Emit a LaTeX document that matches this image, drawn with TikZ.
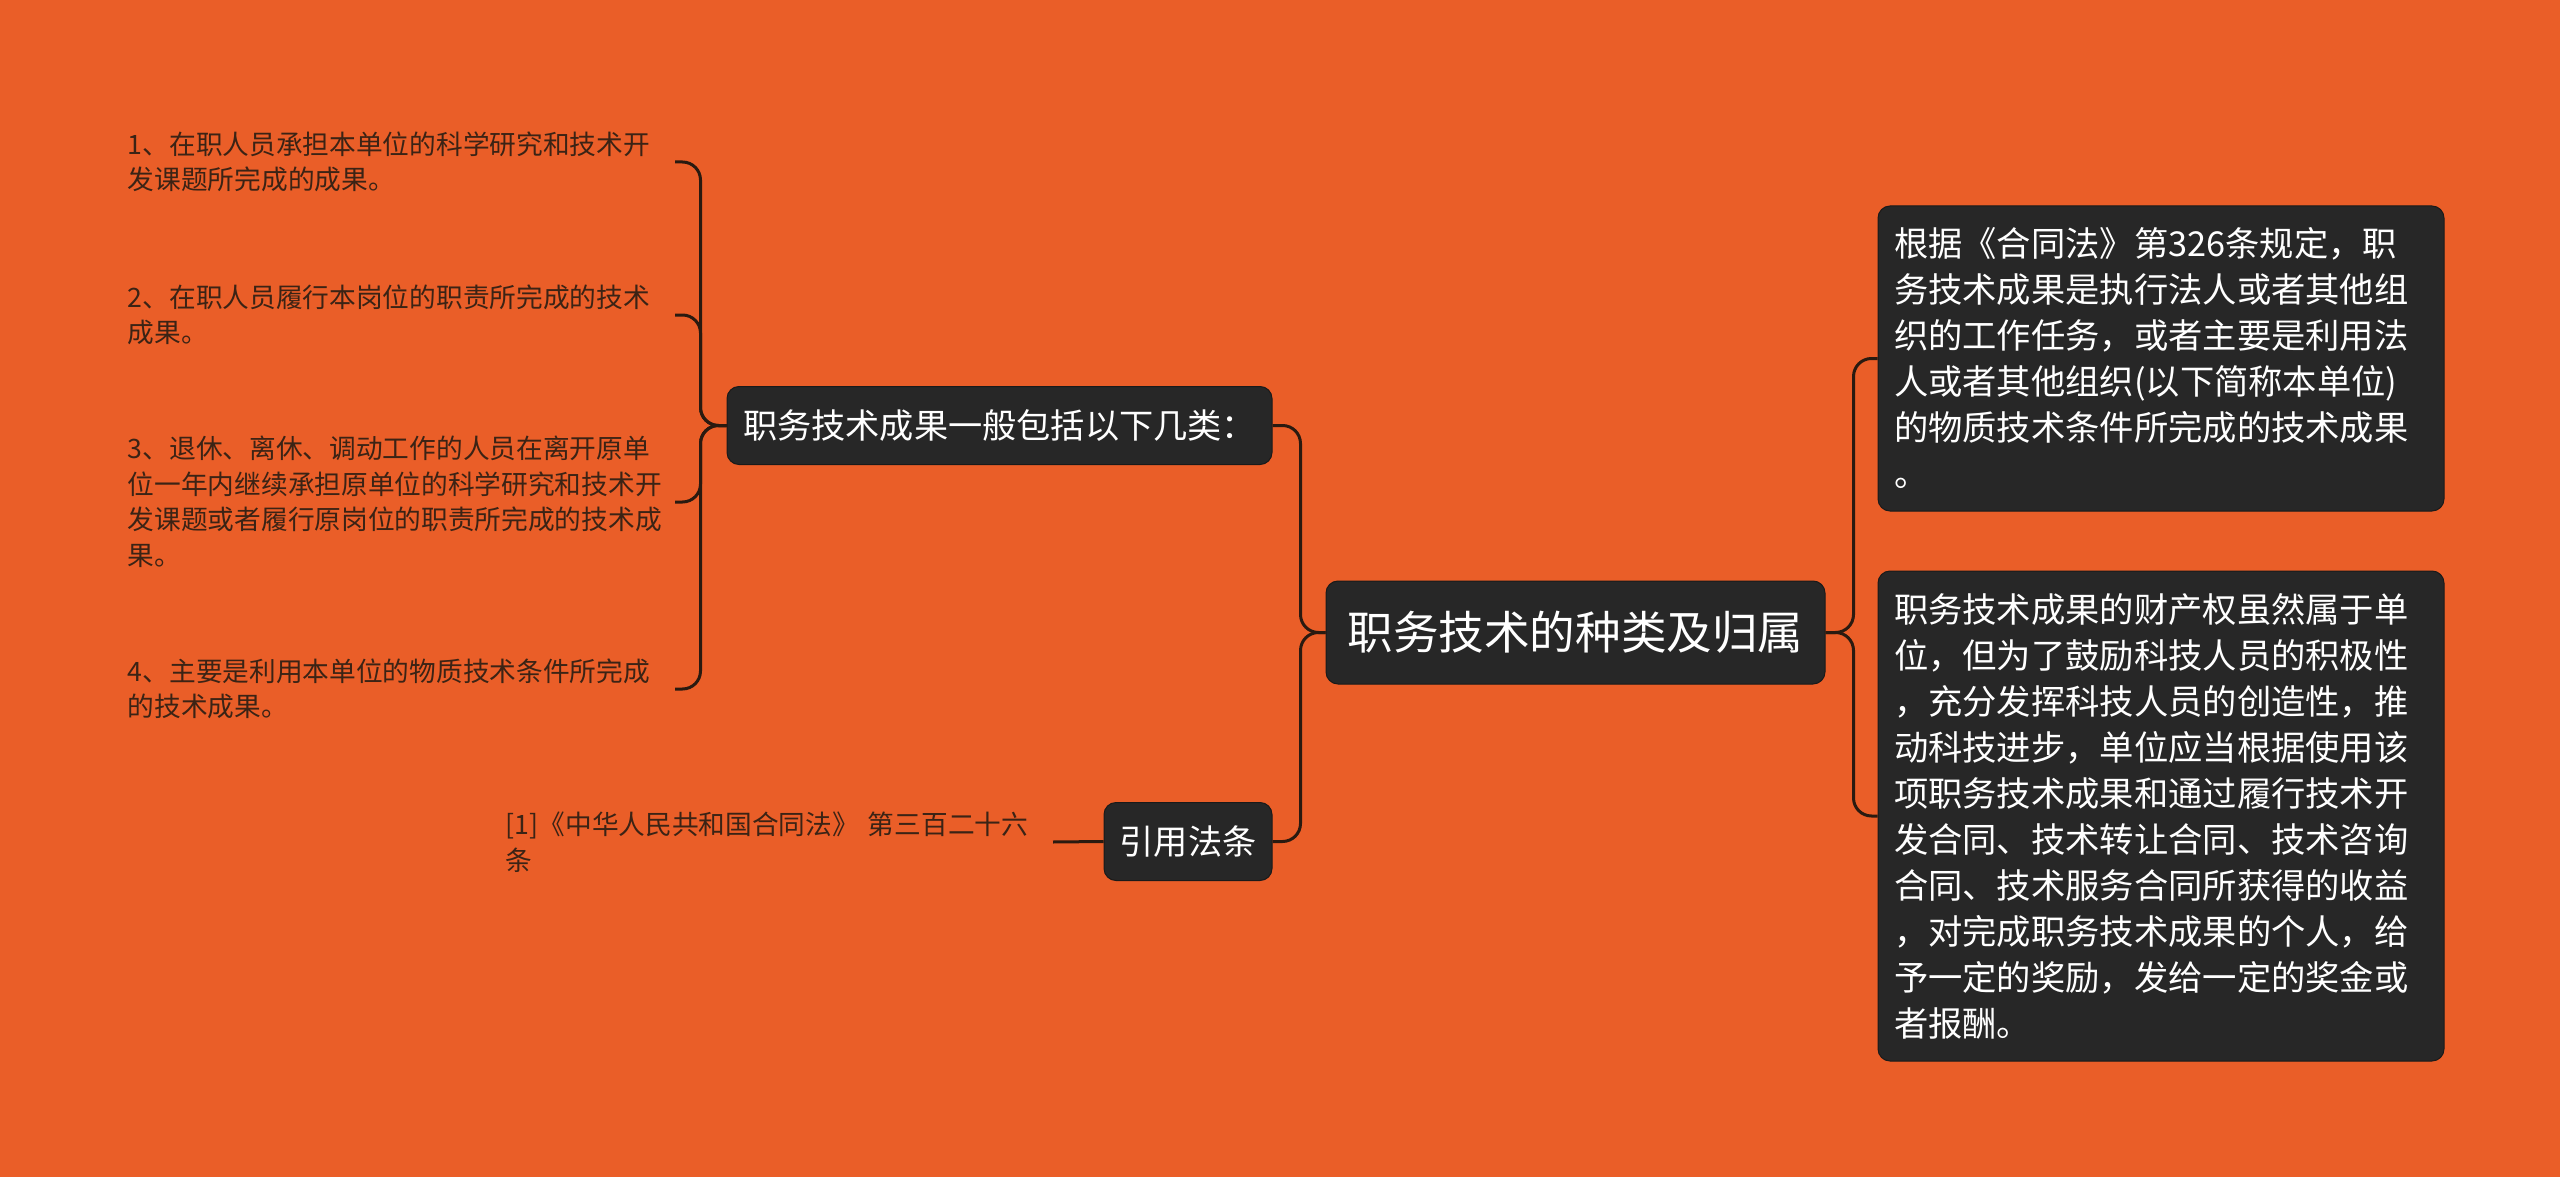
\documentclass[tikz,border=0pt]{standalone}
\usepackage{fontspec}
\newfontfamily\cjk{Noto Sans CJK SC}
\definecolor{bgc}{HTML}{EA5E28}
\definecolor{boxc}{HTML}{272727}
\definecolor{boxline}{HTML}{1A1A1A}
\definecolor{linec}{HTML}{2A1A10}
\definecolor{leaftext}{HTML}{3B2315}
\tikzset{
  darkbox/.style={draw=boxline, line width=1pt, fill=boxc, rounded corners=12pt, text=white, inner sep=0pt},
  centralbox/.style={darkbox, minimum width=499pt, minimum height=103pt, font=\cjk\fontsize{45.6}{55}\selectfont},
  midbox/.style={darkbox, minimum height=78pt, font=\cjk\fontsize{34.2}{46}\selectfont},
  bigbox/.style={darkbox, inner xsep=16pt, inner ysep=0pt, text width=534pt, align=left, font=\cjk\fontsize{34.3}{46}\selectfont},
  leafnode/.style={anchor=east, inner xsep=13pt, inner ysep=0pt, text width=534pt, align=left, text=leaftext, font=\cjk\fontsize{26.7}{35.5}\selectfont},
  conn/.style={draw=linec, line width=3pt, rounded corners=18pt}
}
\begin{document}
\begin{tikzpicture}[x=1pt,y=-1pt]
\fill[bgc] (0,0) rectangle (2560,1177);
\useasboundingbox (0,0) rectangle (2560,1177);

% central
\node[centralbox] (c) at (1575.5,632.5) {职务技术的种类及归属};

% left second level
\node[midbox, minimum width=545pt] (p1) at (999.5,425.5) {职务技术成果一般包括以下几类：};
\node[midbox, minimum width=168pt] (p2) at (1188,841.5) {引用法条};

% right second level
\node[bigbox, minimum height=305pt] (r1) at (2161,358.5) {根据《合同法》第326条规定，职\\务技术成果是执行法人或者其他组\\织的工作任务，或者主要是利用法\\人或者其他组织(以下简称本单位)\\的物质技术条件所完成的技术成果\\。};
\node[bigbox, minimum height=490pt] (r2) at (2161,816) {职务技术成果的财产权虽然属于单\\位，但为了鼓励科技人员的积极性\\，充分发挥科技人员的创造性，推\\动科技进步，单位应当根据使用该\\项职务技术成果和通过履行技术开\\发合同、技术转让合同、技术咨询\\合同、技术服务合同所获得的收益\\，对完成职务技术成果的个人，给\\予一定的奖励，发给一定的奖金或\\者报酬。};

% leaves
\node[leafnode] (l1) at (675,162) {1、在职人员承担本单位的科学研究和技术开\\发课题所完成的成果。};
\node[leafnode] (l2) at (675,315) {2、在职人员履行本岗位的职责所完成的技术\\成果。};
\node[leafnode] (l3) at (675,502) {3、退休、离休、调动工作的人员在离开原单\\位一年内继续承担原单位的科学研究和技术开\\发课题或者履行原岗位的职责所完成的技术成\\果。};
\node[leafnode] (l4) at (675,689) {4、主要是利用本单位的物质技术条件所完成\\的技术成果。};
\node[leafnode] (cite) at (1053,842) {[1]《中华人民共和国合同法》 第三百二十六\\条};

% connectors
\draw[conn] (c.west) -- ++(-25,0) |- (p1.east);
\draw[conn] (c.west) -- ++(-25,0) |- (p2.east);
\draw[conn] (c.east) -- ++(28,0) |- (r1.west);
\draw[conn] (c.east) -- ++(28,0) |- (r2.west);
\draw[conn] (p1.west) -- ++(-26,0) |- (l1.east);
\draw[conn] (p1.west) -- ++(-26,0) |- (l2.east);
\draw[conn] (p1.west) -- ++(-26,0) |- (l3.east);
\draw[conn] (p1.west) -- ++(-26,0) |- (l4.east);
\draw[conn] (p2.west) -- (cite.east);
\end{tikzpicture}
\end{document}
